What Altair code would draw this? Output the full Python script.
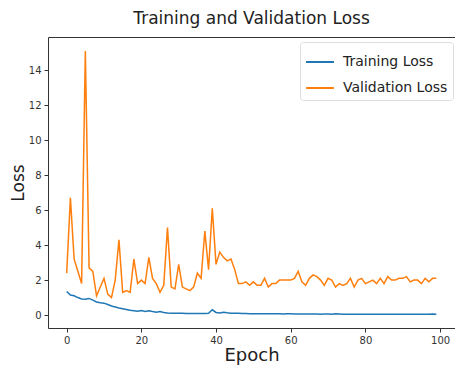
import altair as alt
import pandas as pd

epochs = list(range(100))

training_loss = [
    1.35, 1.15, 1.10, 1.00, 0.92, 0.90, 0.95, 0.85, 0.75, 0.70,
    0.68, 0.60, 0.52, 0.46, 0.40, 0.36, 0.32, 0.27, 0.25, 0.22,
    0.26, 0.21, 0.25, 0.20, 0.16, 0.20, 0.15, 0.12, 0.11, 0.10,
    0.10, 0.10, 0.09, 0.09, 0.09, 0.09, 0.09, 0.09, 0.10, 0.30,
    0.15, 0.12, 0.16, 0.13, 0.11, 0.10, 0.10, 0.09, 0.09, 0.08,
    0.08, 0.08, 0.07, 0.07, 0.07, 0.07, 0.07, 0.07, 0.06, 0.07,
    0.07, 0.06, 0.06, 0.06, 0.06, 0.06, 0.06, 0.06, 0.05, 0.06,
    0.06, 0.05, 0.07, 0.06, 0.05, 0.05, 0.05, 0.05, 0.05, 0.05,
    0.05, 0.05, 0.04, 0.05, 0.05, 0.05, 0.04, 0.04, 0.05, 0.04,
    0.04, 0.05, 0.04, 0.04, 0.04, 0.05, 0.05, 0.05, 0.06, 0.04,
]

validation_loss = [
    2.4, 6.7, 3.2, 2.5, 1.8, 15.1, 2.7, 2.5, 1.1, 1.6,
    2.1, 1.2, 1.0, 2.0, 4.3, 1.3, 1.4, 1.3, 3.2, 1.8,
    2.0, 1.8, 3.3, 2.1, 1.8, 1.3, 1.7, 5.0, 1.6, 1.5,
    2.9, 1.6, 1.5, 1.4, 1.6, 2.4, 2.1, 4.8, 2.6, 6.1,
    2.9, 3.6, 3.3, 3.1, 3.2, 2.6, 1.8, 1.8, 1.9, 1.7,
    1.9, 1.7, 1.7, 2.1, 1.6, 1.8, 1.8, 2.0, 2.0, 2.0,
    2.0, 2.1, 2.5, 1.9, 1.7, 2.1, 2.3, 2.2, 2.0, 1.7,
    2.1, 2.0, 1.6, 1.8, 1.7, 1.8, 2.1, 1.6, 2.0, 2.1,
    1.8, 1.9, 2.0, 1.8, 2.1, 1.8, 2.2, 2.0, 2.0, 2.1,
    2.1, 2.2, 1.9, 2.0, 2.0, 1.8, 2.1, 1.9, 2.1, 2.1,
]

series_names = ["Training Loss", "Validation Loss"]
series_colors = ["#1f77b4", "#ff7f0e"]
x_ticks = [0, 20, 40, 60, 80, 100]
y_ticks = [0, 2, 4, 6, 8, 10, 12, 14]

df = pd.concat([
    pd.DataFrame({"epoch": epochs, "loss": training_loss, "series": series_names[0]}),
    pd.DataFrame({"epoch": epochs, "loss": validation_loss, "series": series_names[1]}),
])

font = "DejaVu Sans"

chart = alt.Chart(df).mark_line(strokeWidth=1.5).encode(
    x=alt.X("epoch:Q",
            scale=alt.Scale(domain=[-5, 104], nice=False, zero=False),
            axis=alt.Axis(values=x_ticks, title="Epoch", grid=False, labelFontSize=10,
                          titleFontSize=18, titleFontWeight="normal", titlePadding=1,
                          tickSize=4, labelPadding=3, domain=False)),
    y=alt.Y("loss:Q",
            scale=alt.Scale(domain=[-0.74, 15.9], nice=False, zero=False),
            axis=alt.Axis(values=y_ticks, title="Loss", grid=False, labelFontSize=10,
                          titleFontSize=17, titleFontWeight="normal", titlePadding=1,
                          tickSize=4, labelPadding=3, domain=False)),
    color=alt.Color("series:N",
                    scale=alt.Scale(domain=series_names, range=series_colors),
                    legend=alt.Legend(title=None, orient="none", legendX=252, legendY=5,
                                      symbolType="stroke", symbolStrokeWidth=2, symbolSize=780,
                                      labelFontSize=14, labelFont=font, labelColor="#222",
                                      fillColor="white", strokeColor="#dddddd",
                                      padding=5, cornerRadius=3, rowPadding=4,
                                      labelOffset=8)),
    order="epoch:Q",
).properties(
    width=407,
    height=291,
    title=alt.TitleParams("Training and Validation Loss", fontSize=17, fontWeight="normal",
                          font=font, color="#222", offset=9),
    autosize=alt.AutoSizeParams(type="none"),
    padding={"left": 40, "top": 29, "right": 0, "bottom": 45},
).configure_view(
    stroke="#333333", strokeWidth=1
).configure_axis(
    labelFont=font, titleFont=font, labelColor="#333", titleColor="#222",
    tickColor="#333"
)

chart.save("out.html", embed_options={"renderer": "svg", "actions": False})
